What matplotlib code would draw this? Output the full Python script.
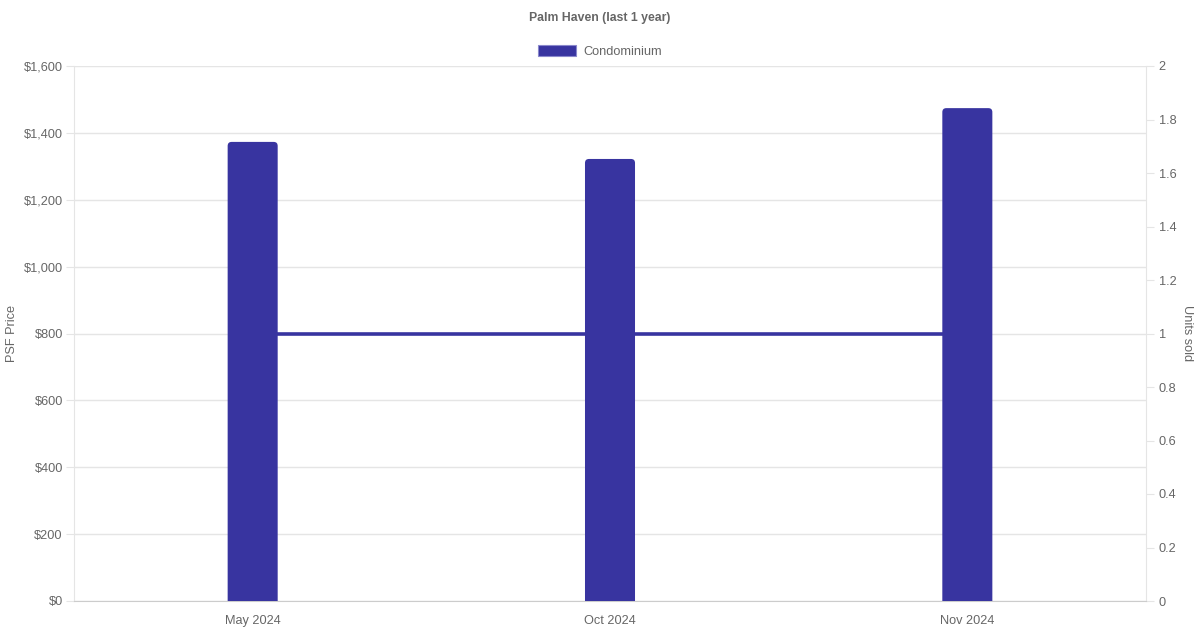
import matplotlib
matplotlib.use("Agg")
import matplotlib.pyplot as plt
from matplotlib.patches import FancyBboxPatch, Rectangle
from matplotlib.ticker import FuncFormatter

months = ["May 2024", "Oct 2024", "Nov 2024"]
psf_price = [1373, 1322, 1474]
units_sold = [1, 1, 1]
series_name = "Condominium"
title = "Palm Haven (last 1 year)"

BAR = "#3834a0"
TXT = "#666666"
GRID = "#e5e5e5"

plt.rcParams["font.family"] = ["Liberation Sans", "DejaVu Sans"]

fig = plt.figure(figsize=(12, 6.3), dpi=100)
ax = fig.add_axes([74/1200, 1 - 601/630, (1146-74)/1200, (601-66)/630])
ax2 = ax.twinx()
ax.set_zorder(2)
ax2.set_zorder(1)
ax.patch.set_visible(False)

x = list(range(len(months)))

ax2.set_ylim(0, 2)
ax2.set_yticks([0, 0.2, 0.4, 0.6, 0.8, 1, 1.2, 1.4, 1.6, 1.8, 2])
ax2.set_yticklabels(["0", "0.2", "0.4", "0.6", "0.8", "1", "1.2", "1.4", "1.6", "1.8", "2"])

ax.set_xlim(-0.5, 2.5)
ax.set_ylim(0, 1600)

# units line on the right-axis scale, drawn behind bars but above grid
ax.plot(x, units_sold, color=BAR, lw=2.6, solid_capstyle="butt", zorder=2,
        transform=ax2.transData)

bars = ax.bar(x, psf_price, width=0.14, color=BAR)
xpx = 1072 / 3.0
ypx = 535 / 1600.0
aspect = (1 / ypx) / (1 / xpx)
for b in bars:
    b.set_visible(False)
    bx, by, bw, bh = b.get_x(), b.get_y(), b.get_width(), b.get_height()
    r = 4 / xpx
    p = FancyBboxPatch((bx, by - 30), bw, bh + 30,
                       boxstyle=f"round,pad=0,rounding_size={r}",
                       mutation_aspect=aspect, facecolor=BAR, edgecolor="none",
                       zorder=3, clip_on=True)
    ax.add_patch(p)

ax.set_xticks(x)
ax.set_xticklabels(months)
ax.set_yticks(range(0, 1601, 200))
ax.yaxis.set_major_formatter(FuncFormatter(lambda v, p: f"${int(v):,}"))
ax.grid(axis="y", color=GRID, lw=1, zorder=0)
ax.set_axisbelow(True)

for a in (ax, ax2):
    for s in a.spines.values():
        s.set_visible(False)
ax.spines["left"].set_visible(True)
ax.spines["left"].set_color(GRID)
ax.spines["bottom"].set_visible(True)
ax.spines["bottom"].set_color("#cccccc")
ax2.spines["right"].set_visible(True)
ax2.spines["right"].set_color(GRID)

ax.tick_params(axis="x", length=0, pad=10, labelsize=9.2, labelcolor=TXT)
ax.tick_params(axis="y", length=6, color=GRID, pad=2, labelsize=9.2, labelcolor=TXT)
ax2.tick_params(axis="y", length=6, color=GRID, pad=3, labelsize=9.2, labelcolor=TXT)

ax.set_ylabel("PSF Price", color=TXT, fontsize=9.2, labelpad=4)
ax2.set_ylabel("Units sold", color=TXT, fontsize=9.2, rotation=270, labelpad=12)

fig.text(0.5, 1 - 18.5/630, title, ha="center", va="center", fontsize=8.8,
         fontweight="bold", color=TXT)
handle = Rectangle((0, 0), 1, 1, facecolor=BAR, edgecolor="#8a88cc", lw=0.8)
fig.legend([handle], [series_name], loc="center", bbox_to_anchor=(0.5, 1 - 51.5/630),
           frameon=False, handlelength=3.0, handleheight=0.9, handletextpad=0.55,
           fontsize=9.2, labelcolor=TXT)

fig.savefig("out.png", dpi=100)
